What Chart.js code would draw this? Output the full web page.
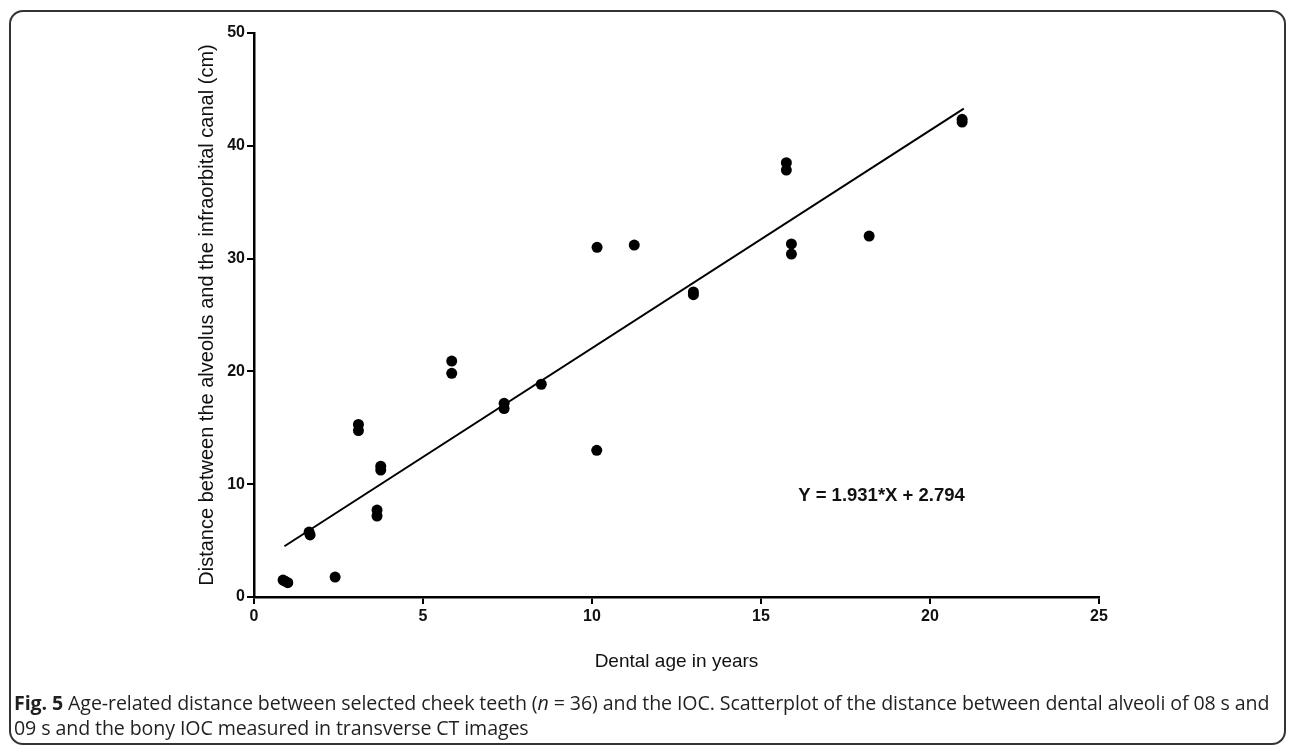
<!DOCTYPE html>
<html>
<head>
<meta charset="utf-8">
<script src="https://cdn.jsdelivr.net/npm/chart.js@4"></script>
<style>
  html, body { margin: 0; padding: 0; background: #fff; width: 1290px; height: 745px; overflow: hidden; }
  #wrap { position: relative; width: 1290px; height: 745px; }
  #frame { position: absolute; left: 9px; top: 10px; width: 1277px; height: 735px; border: 2px solid #333; border-radius: 14px; box-sizing: border-box; }
  #c { position: absolute; left: 0; top: 0; }
  #caption { position: absolute; left: 14px; top: 690px; font-family: "Open Sans", "Noto Sans", sans-serif; font-size: 19.6px; line-height: 25px; color: #231f20; white-space: nowrap; letter-spacing: -0.1px; }
  #caption b { font-weight: 700; }
</style>
</head>
<body>
<div id="wrap">
  <div id="frame"></div>
  <canvas id="c" width="1290" height="745"></canvas>
  <div id="caption"><b>Fig. 5</b> Age-related distance between selected cheek teeth (<i>n</i> = 36) and the IOC. Scatterplot of the distance between dental alveoli of 08 s and<br>09 s and the bony IOC measured in transverse CT images</div>
</div>
<script>
// Dental age (years) of each measured tooth
const dentalAge = [0.86, 0.92, 1.0, 1.63, 1.66, 2.4, 3.09, 3.09, 3.75, 3.75, 3.64, 3.64,
                   5.85, 5.85, 7.4, 7.4, 8.5, 10.14, 10.15, 11.25, 13.0, 13.0,
                   15.75, 15.75, 15.9, 15.9, 18.2, 20.95, 20.95];
// Distance between the alveolus and the infraorbital canal
const distance = [1.5, 1.4, 1.27, 5.76, 5.5, 1.77, 15.3, 14.75, 11.6, 11.26, 7.71, 7.18,
                  20.92, 19.83, 17.17, 16.7, 18.86, 13.0, 31.0, 31.2, 26.8, 27.05,
                  38.5, 37.85, 31.3, 30.4, 32.0, 42.1, 42.35];
// Regression line end points
const fitX = [0.9, 21.0];
const fitY = [4.5, 43.3];
// Axis ticks
const xTicks = [0, 5, 10, 15, 20, 25];
const yTicks = [0, 10, 20, 30, 40, 50];
const equationText = "Y = 1.931*X + 2.794";
const equationAt = [16.1, 9.0];

const pts = dentalAge.map((x, i) => ({ x: x, y: distance[i] }));
const fitPts = fitX.map((x, i) => ({ x: x, y: fitY[i] }));

const tickFont = { family: "'Liberation Sans', Arial, sans-serif", size: 16, weight: 'bold' };
const xTitleFont = { family: "'Liberation Sans', Arial, sans-serif", size: 19, weight: 'normal' };
const yTitleFont = { family: "'Liberation Sans', Arial, sans-serif", size: 20, weight: 'normal' };

const equationPlugin = {
  id: 'equation',
  afterDatasetsDraw(chart) {
    const ctx = chart.ctx;
    const xs = chart.scales.x, ys = chart.scales.y;
    ctx.save();
    ctx.font = "bold 18.5px 'Liberation Sans', Arial, sans-serif";
    ctx.fillStyle = '#111';
    ctx.textBaseline = 'middle';
    ctx.textAlign = 'left';
    ctx.fillText(equationText, xs.getPixelForValue(equationAt[0]), ys.getPixelForValue(equationAt[1]));
    ctx.restore();
  }
};

new Chart(document.getElementById('c'), {
  type: 'scatter',
  data: {
    datasets: [
      {
        data: pts,
        pointRadius: 5.5,
        pointHoverRadius: 5.5,
        pointBackgroundColor: '#000',
        pointBorderColor: '#000',
        pointBorderWidth: 0,
        showLine: false
      },
      {
        data: fitPts,
        showLine: true,
        borderColor: '#000',
        borderWidth: 2,
        pointRadius: 0,
        fill: false
      }
    ]
  },
  options: {
    responsive: false,
    animation: false,
    events: [],
    layout: { padding: { left: 195, top: 33, right: 191, bottom: 72 } },
    plugins: { legend: { display: false }, tooltip: { enabled: false } },
    scales: {
      x: {
        type: 'linear',
        min: 0, max: 25,
        afterFit(s) { s.height = 76; },
        afterBuildTicks(s) { s.ticks = xTicks.map(v => ({ value: v })); },
        ticks: { font: tickFont, color: '#111', padding: 3 },
        grid: { drawOnChartArea: false, drawTicks: true, tickLength: 7, color: '#000', lineWidth: 2 },
        border: { display: true, color: '#000', width: 2.5 },
        title: { display: true, text: 'Dental age in years', font: xTitleFont, color: '#111', padding: 0 }
      },
      y: {
        type: 'linear',
        min: 0, max: 50,
        afterFit(s) { s.width = 59; },
        afterBuildTicks(s) { s.ticks = yTicks.map(v => ({ value: v })); },
        ticks: { font: tickFont, color: '#111', padding: 2 },
        grid: { drawOnChartArea: false, drawTicks: true, tickLength: 7, color: '#000', lineWidth: 2 },
        border: { display: true, color: '#000', width: 2.5 },
        title: { display: true, text: 'Distance between the alveolus and the infraorbital canal (cm)', font: yTitleFont, color: '#111', padding: 0 }
      }
    }
  },
  plugins: [equationPlugin]
});
</script>
</body>
</html>
